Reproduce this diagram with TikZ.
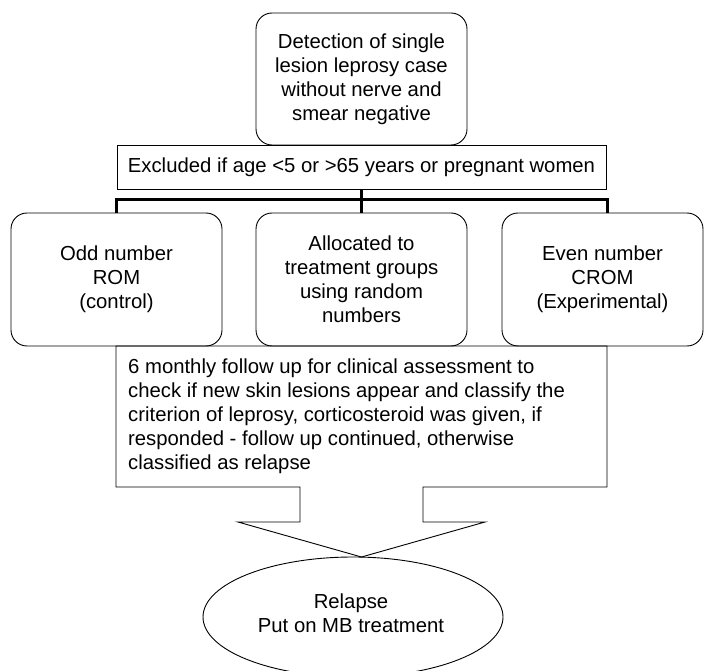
\documentclass[tikz,border=0pt]{standalone}
\usepackage{fontspec}
\setmainfont{Liberation Sans}
\usetikzlibrary{shapes.geometric}
\begin{document}
\begin{tikzpicture}[x=1pt,y=-1pt,
  every node/.style={font=\fontsize{20.3}{24}\selectfont},
  rbox/.style={draw, line width=0.9pt, rounded corners=16pt, align=center, inner sep=0pt},
  sbox/.style={draw, line width=0.9pt, align=center, inner sep=0pt},
  busline/.style={line width=3pt},
  outline/.style={line width=0.9pt, line join=miter}]
\useasboundingbox (0,0) rectangle (704,671);
\clip (0,0) rectangle (704,671);

\node[rbox, minimum width=211pt, minimum height=132pt] (det) at (361.5,79)
  {Detection of single\\lesion leprosy case\\without nerve and\\smear negative};
\node[sbox, minimum width=489pt, minimum height=44pt] (exc) at (361.5,167)
  {Excluded if age <5 or >65 years or pregnant women};
\node[rbox, minimum width=211pt, minimum height=133pt] (odd) at (116.5,279.5)
  {Odd number\\ROM\\(control)};
\node[rbox, minimum width=211pt, minimum height=133pt] (alloc) at (361.5,279.5)
  {Allocated to\\treatment groups\\using random\\numbers};
\node[rbox, minimum width=201pt, minimum height=133pt] (even) at (602.5,279.5)
  {Even number\\CROM\\(Experimental)};

\coordinate (bl) at (odd.north);
\coordinate (br) at (607,213);
\coordinate (bus) at (361.5,200);
\draw[busline] (exc.south) -- (alloc.north);
\draw[busline] (bl) -- (bl |- bus) -- (br |- bus) -- (br);

% callout box with down arrow
\draw[outline] (116,346) -- (607,346) -- (607,487) -- (423,487) -- (423,522)
  -- (485,522) -- (361.5,557) -- (238,522) -- (300,522) -- (300,487)
  -- (116,487) -- cycle;
\node[anchor=west, align=left, inner sep=0pt] (fu) at (128,416)
  {6 monthly follow up for clinical assessment to\\
   check if new skin lesions appear and classify the\\
   criterion of leprosy, corticosteroid was given, if\\
   responded - follow up continued, otherwise\\
   classified as relapse};

\node[draw, ellipse, line width=0.9pt, minimum width=300pt, minimum height=120pt, inner sep=0pt] (rel) at (353,617) {};
\node[align=center, inner sep=0pt] (reltext) at (351,613.5) {Relapse\\Put on MB treatment};
\end{tikzpicture}
\end{document}
